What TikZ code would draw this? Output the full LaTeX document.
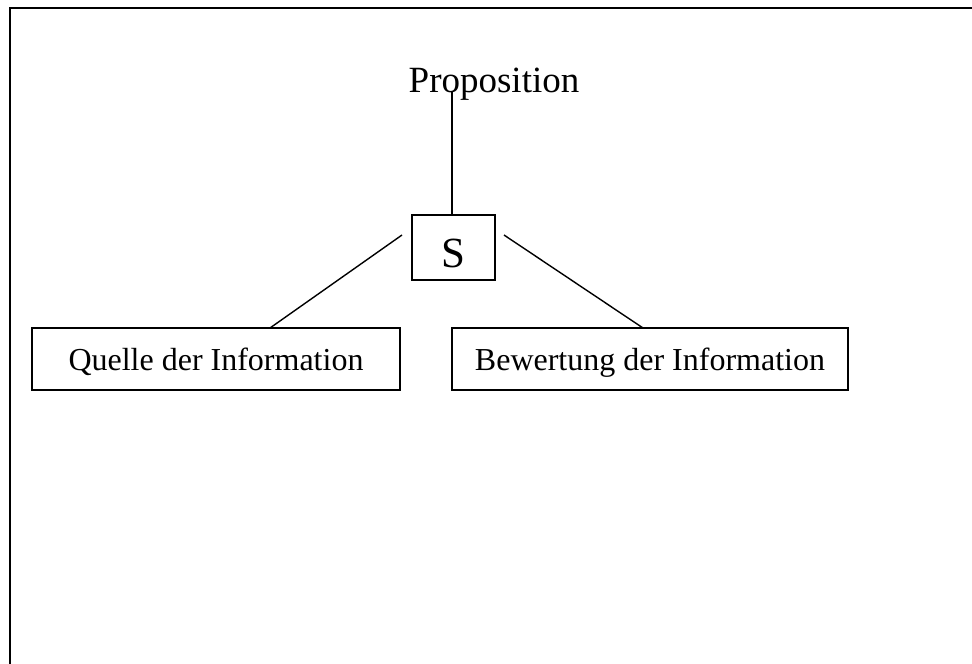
\documentclass[tikz,border=0pt]{standalone}
\usepackage{fontspec}
\setmainfont{Liberation Serif}
\begin{document}
\begin{tikzpicture}[x=1pt,y=-1pt,
  boxnode/.style={draw,line width=1.6pt,inner sep=0pt,anchor=center,text depth=0pt},
  conn/.style={line width=1.4pt}]
\useasboundingbox (0,0) rectangle (972,664);
\draw[line width=2.2pt] (10,664) -- (10,8) -- (972,8);
\node[inner sep=0pt,anchor=base] (P) at (494,92) {\fontsize{37}{40}\selectfont Proposition};
\node[boxnode,minimum width=83pt,minimum height=65pt,text height=39pt] (S) at (453.5,247.5) {\fontsize{43}{46}\selectfont S};
\node[boxnode,minimum width=368pt,minimum height=62pt,text height=22pt] (Q) at (216,359) {\fontsize{32}{36}\selectfont Quelle der Information};
\node[boxnode,minimum width=396pt,minimum height=62pt,text height=22pt] (B) at (650,359) {\fontsize{32}{36}\selectfont Bewertung der Information};
\coordinate (ptop) at (452,92);
\coordinate (sl) at (402,235);
\coordinate (sr) at (504,235);
\coordinate (ql) at (270,328);
\coordinate (br) at (643,328);
\draw[conn] (ptop) -- (ptop |- S.north);
\draw[conn] (sl) -- (ql);
\draw[conn] (sr) -- (br);
\end{tikzpicture}
\end{document}
